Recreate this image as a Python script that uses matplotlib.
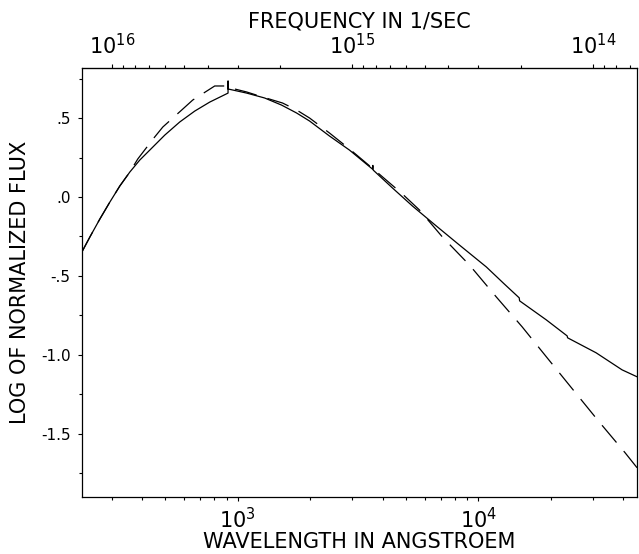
import matplotlib
matplotlib.use("Agg")
import matplotlib.pyplot as plt
from matplotlib.ticker import LogLocator, NullFormatter
import numpy as np

# solid curve: model spectrum (wavelength in Angstrom, log of normalized flux)
# the spikes/steps are the Lyman, Balmer, Brackett and Pfund edges
model_wave = [225.3, 243.2, 267.6, 294.4, 323.9, 356.3, 392.0, 431.3, 497.9, 574.5,
              663.1, 765.4, 912, 912, 912, 1090, 1294, 1522, 1757, 1990,
              2408, 2915, 3630, 3646, 3660, 4398, 5323, 6694, 8340, 10795,
              12822, 14795, 14850, 19150, 23404, 23500, 30876, 39582, 45685]
model_flux = [-0.348, -0.253, -0.139, -0.032, 0.070, 0.158, 0.234, 0.297, 0.392, 0.475,
              0.544, 0.601, 0.658, 0.734, 0.684, 0.658, 0.627, 0.582, 0.532, 0.481,
              0.386, 0.297, 0.177, 0.200, 0.170, 0.057, -0.057, -0.184, -0.304, -0.443,
              -0.551, -0.639, -0.658, -0.778, -0.880, -0.892, -0.987, -1.095, -1.139]

# dashed curve: comparison spectrum
comp_wave = [225.3, 243.2, 267.6, 294.4, 323.9, 356.3, 384.6, 448.2, 488.5, 585.6,
             650.5, 802.8, 883.4, 971.8, 1090, 1234, 1537, 1757, 1990, 2408,
             2915, 3703, 4838, 5691, 7089, 9177, 11876, 15222, 19333, 24791,
             31771, 40738, 45685]
comp_flux = [-0.348, -0.253, -0.139, -0.032, 0.070, 0.158, 0.241, 0.373, 0.443, 0.551,
             0.614, 0.703, 0.703, 0.684, 0.665, 0.639, 0.595, 0.551, 0.500, 0.405,
             0.304, 0.171, 0.019, -0.082, -0.253, -0.430, -0.633, -0.823, -1.019, -1.222,
             -1.424, -1.620, -1.715]

ytick_vals = [0.5, 0.0, -0.5, -1.0, -1.5]
ytick_text = ['.5', '.0', '-.5', '-1.0', '-1.5']
freq_ticks = [1e16, 1e15, 1e14]

C_ANG = 2.998e18  # speed of light in Angstrom/s

plt.rcParams['mathtext.default'] = 'regular'

fig = plt.figure(figsize=(6.39, 5.54), dpi=100)
ax = fig.add_axes([0.128, 0.103, 0.869, 0.774])

ax.plot(model_wave, model_flux, color='black', lw=0.9)
ax.plot(comp_wave, comp_flux, color='black', lw=0.9, linestyle=(0, (18, 9)))

ax.set_xscale('log')
ax.set_xlim(225, 45700)
ax.set_ylim(-1.90, 0.816)

ax.set_yticks(ytick_vals, ytick_text)
ax.set_yticks(np.arange(-1.75, 0.8, 0.5), minor=True)

ax.tick_params(axis='both', which='major', direction='out', length=3, width=0.8)
ax.tick_params(axis='both', which='minor', direction='out', length=2, width=0.8)
ax.tick_params(axis='x', which='major', labelsize=15, pad=4)
ax.tick_params(axis='y', which='major', labelsize=11, pad=5)
for s in ax.spines.values():
    s.set_linewidth(0.9)

# frequency axis on top
sec = ax.secondary_xaxis('top', functions=(lambda w: C_ANG / w, lambda f: C_ANG / f))
sec.set_xticks(freq_ticks)
sec.xaxis.set_minor_locator(LogLocator(base=10, subs=np.arange(2, 10)))
sec.xaxis.set_minor_formatter(NullFormatter())
sec.tick_params(which='major', direction='out', length=3, width=0.8, labelsize=15, pad=4)
sec.tick_params(which='minor', direction='out', length=2, width=0.8)
sec.set_xlabel('FREQUENCY IN 1/SEC', fontsize=15, labelpad=4)

ax.set_xlabel('WAVELENGTH IN ANGSTROEM', fontsize=15, labelpad=0)
ax.set_ylabel('LOG OF NORMALIZED FLUX', fontsize=15, labelpad=8)

fig.savefig('out.png', dpi=100)
